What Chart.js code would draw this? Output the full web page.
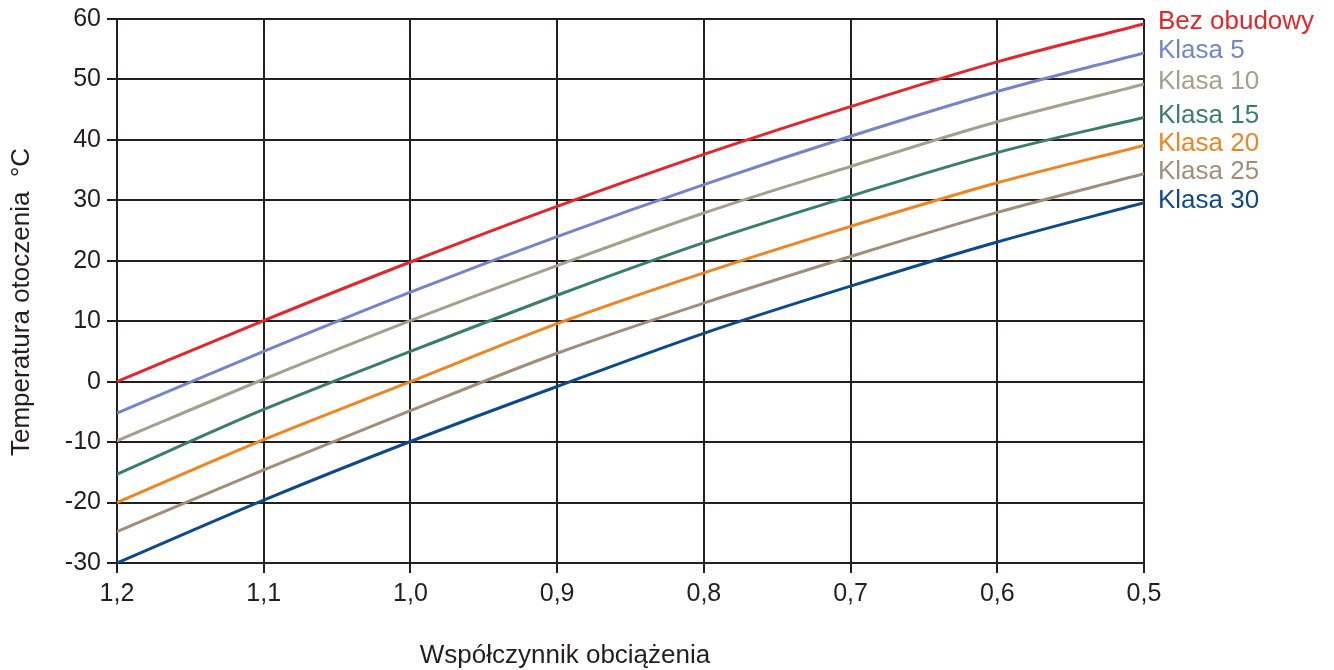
<!DOCTYPE html>
<html>
<head>
<meta charset="utf-8">
<script src="https://cdn.jsdelivr.net/npm/chart.js@4"></script>
<style>
  body { margin: 0; background: #fff; }
  #wrap { width: 1334px; height: 670px; }
</style>
</head>
<body>
<div id="wrap"><canvas id="tempChart"></canvas></div>
<script>
const loadFactor = [1.2, 1.1, 1.0, 0.9, 0.8, 0.7, 0.6, 0.5];
const seriesNames = ["Bez obudowy", "Klasa 5", "Klasa 10", "Klasa 15", "Klasa 20", "Klasa 25", "Klasa 30"];
const bezObudowy = [0, 10.1, 19.8, 29.0, 37.6, 45.5, 52.9, 59.2];
const klasa5 = [-5.2, 5.0, 14.8, 24.0, 32.6, 40.6, 48.0, 54.4];
const klasa10 = [-9.8, 0.4, 10.1, 19.2, 27.9, 35.6, 43.0, 49.2];
const klasa15 = [-15.3, -4.6, 5.0, 14.3, 23.0, 30.7, 37.9, 43.7];
const klasa20 = [-20.0, -9.6, 0.0, 9.6, 18.0, 25.7, 32.9, 39.1];
const klasa25 = [-24.8, -14.6, -4.8, 4.7, 13.0, 20.7, 28.0, 34.4];
const klasa30 = [-30.0, -19.6, -9.9, -0.8, 8.0, 15.8, 23.1, 29.6];
const colors = ['#e2262b', '#7385c8', '#a2a18e', '#3a7d6b', '#f08420', '#a38d79', '#0d4a8d'];
const allSeries = [bezObudowy, klasa5, klasa10, klasa15, klasa20, klasa25, klasa30];

const ink = '#231f20';
const fontFam = '"Liberation Sans", Arial, sans-serif';

const datasets = allSeries.map((vals, i) => ({
    label: seriesNames[i],
    data: loadFactor.map((x, j) => ({x: x, y: vals[j]})),
    borderColor: colors[i],
    borderWidth: 3,
    pointRadius: 0,
    fill: false,
    cubicInterpolationMode: 'monotone'
}));

// series names at line ends + axis titles
const textPlugin = {
    id: 'textPlugin',
    afterDraw(chart) {
        const ctx = chart.ctx;
        const area = chart.chartArea;
        ctx.save();
        ctx.font = '26px ' + fontFam;
        ctx.textBaseline = 'middle';
        ctx.textAlign = 'left';
        chart.data.datasets.forEach((ds, i) => {
            const pts = chart.getDatasetMeta(i).data;
            const last = pts[pts.length - 1];
            ctx.fillStyle = colors[i];
            ctx.fillText(ds.label, area.right + 14, last.y - 2);
        });
        ctx.fillStyle = ink;
        ctx.textAlign = 'center';
        ctx.fillText('Współczynnik obciążenia', 565, 656);
        ctx.translate(22, 302);
        ctx.rotate(-Math.PI / 2);
        ctx.fillText('Temperatura otoczenia  °C', 0, 0);
        ctx.restore();
    }
};

new Chart(document.getElementById('tempChart').getContext('2d'), {
    type: 'line',
    data: { datasets: datasets },
    plugins: [textPlugin],
    options: {
        responsive: true,
        maintainAspectRatio: false,
        animation: false,
        layout: { padding: { top: 19, right: 190, left: 0, bottom: 0 } },
        plugins: { legend: { display: false }, tooltip: { enabled: false } },
        scales: {
            x: {
                type: 'linear',
                reverse: true,
                min: 0.5,
                max: 1.2,
                afterFit: (s) => { s.height = 107; },
                ticks: {
                    stepSize: 0.1,
                    color: ink,
                    padding: 9,
                    font: { size: 25, family: fontFam, lineHeight: 1 },
                    callback: (v) => v.toFixed(1).replace('.', ',')
                },
                grid: { color: ink, lineWidth: 2, tickLength: 10 },
                border: { color: ink, width: 2 }
            },
            y: {
                min: -30,
                max: 60,
                afterFit: (s) => { s.width = 117; },
                ticks: {
                    stepSize: 10,
                    color: ink,
                    padding: 6,
                    font: { size: 25, family: fontFam, lineHeight: 1 }
                },
                grid: { color: ink, lineWidth: 2, tickLength: 10 },
                border: { color: ink, width: 2 }
            }
        }
    }
});
</script>
</body>
</html>
